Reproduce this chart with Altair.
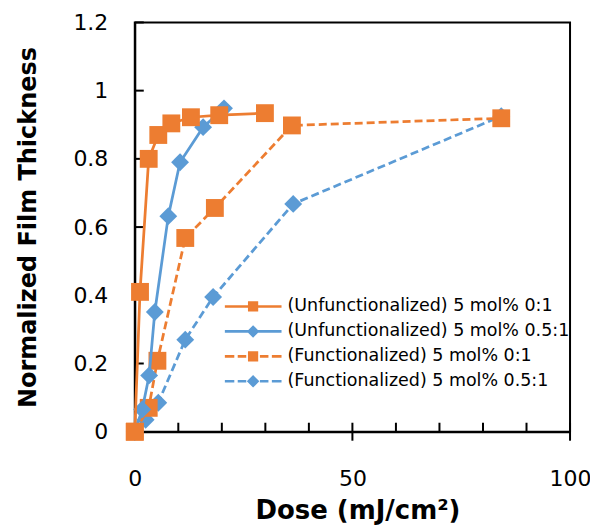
import altair as alt
import pandas as pd

series_names = [
    "(Unfunctionalized) 5 mol% 0:1",
    "(Unfunctionalized) 5 mol% 0.5:1",
    "(Functionalized) 5 mol% 0:1",
    "(Functionalized) 5 mol% 0.5:1",
]
series_colors = ["#ED7D31", "#5B9BD5", "#ED7D31", "#5B9BD5"]
series_dashed = [False, False, True, True]
series_shape = ["square", "diamond", "square", "diamond"]

unf01_dose = [0, 1.2, 3.2, 5.4, 8.4, 12.9, 19.4, 29.9]
unf01_thick = [0, 0.41, 0.80, 0.87, 0.904, 0.922, 0.928, 0.934]
unf05_dose = [0, 1.7, 3.3, 4.6, 7.7, 10.4, 15.7, 20.5]
unf05_thick = [0, 0.065, 0.165, 0.351, 0.632, 0.79, 0.893, 0.948]
fun01_dose = [0, 3.2, 5.2, 11.6, 18.4, 36.1, 84.2]
fun01_thick = [0, 0.07, 0.208, 0.568, 0.656, 0.898, 0.919]
fun05_dose = [0, 2.5, 5.4, 11.6, 18.0, 36.4, 84.2]
fun05_thick = [0, 0.035, 0.085, 0.27, 0.395, 0.668, 0.925]

x_labels = [0, 50, 100]
y_labels = [0, 0.2, 0.4, 0.6, 0.8, 1, 1.2]
x_minor = [10, 20, 30, 40, 60, 70, 80, 90]
x_major = [50, 100]

doses = [unf01_dose, unf05_dose, fun01_dose, fun05_dose]
thicks = [unf01_thick, unf05_thick, fun01_thick, fun05_thick]
rows = []
for name, d, t in zip(series_names, doses, thicks):
    for a, b in zip(d, t):
        rows.append({"series": name, "dose": a, "thick": b})
df = pd.DataFrame(rows)

W, H = 436, 410
FONT = "DejaVu Sans"

xs = alt.Scale(domain=[0, 100], nice=False, zero=False)
ys = alt.Scale(domain=[0, 1.2], nice=False, zero=False)

x_axis = alt.Axis(
    values=x_labels, format=".0f", grid=False, ticks=False, labelPadding=37,
    labelFlush=False, labelOverlap=False,
    labelFont=FONT, labelFontSize=22, labelColor="black",
    domainColor="black", domainWidth=2,
    title="Dose (mJ/cm²)", titleFont=FONT, titleFontSize=26, titleFontWeight="bold",
    titleColor="black", titleX=W / 2 + 5, titleY=87, titleBaseline="alphabetic",
    titleAlign="center",
)
y_axis = alt.Axis(
    values=y_labels, format=".1~f", grid=False, ticks=False, labelPadding=27,
    labelFlush=False, labelOverlap=False,
    labelFont=FONT, labelFontSize=22, labelColor="black",
    domainColor="black", domainWidth=2,
    title="Normalized Film Thickness", titleFont=FONT, titleFontSize=24,
    titleFontWeight="bold", titleColor="black", titleX=-106, titleY=H / 2,
    titleAngle=270, titleAlign="center", titleBaseline="middle",
)

layers = []
for i in [3, 2, 1, 0]:
    name = series_names[i]
    base = alt.Chart(df).transform_filter(alt.datum.series == name)
    line_kw = dict(color=series_colors[i], strokeWidth=2.75)
    if series_dashed[i]:
        line_kw["strokeDash"] = [8, 4]
    layers.append(
        base.mark_line(**line_kw).encode(
            x=alt.X("dose:Q", scale=xs, axis=x_axis),
            y=alt.Y("thick:Q", scale=ys, axis=y_axis),
        )
    )
    layers.append(
        base.mark_point(filled=True, opacity=1, shape=series_shape[i],
                        size=320, color=series_colors[i]).encode(
            x=alt.X("dose:Q", scale=xs, axis=x_axis),
            y=alt.Y("thick:Q", scale=ys, axis=y_axis),
        )
    )

# legend symbols: line + marker
def bar(a, b, h=0.045):
    return f"M{a},{-h}H{b}V{h}H{a}Z"

sq = "M-0.18,-0.18H0.18V0.18H-0.18Z"
dm = "M0,-0.22L0.22,0L0,0.22L-0.22,0Z"
solid = bar(-1, 1)
dashed = bar(-1, -0.66) + bar(-0.54, -0.24) + bar(0.24, 0.54) + bar(0.66, 1)
legend_paths = [solid + sq, solid + dm, dashed + sq, dashed + dm]

leg = alt.Legend(
    orient="none", legendX=90, legendY=276, title=None,
    symbolSize=3249, symbolStrokeWidth=0, symbolOpacity=1,
    labelFont=FONT, labelFontSize=17.5, labelColor="black", labelOffset=6,
    labelLimit=400, rowPadding=7, padding=0, clipHeight=17,
)
legend_layer = alt.Chart(df).transform_filter("datum.dose < 0").mark_point(
    filled=True, opacity=1
).encode(
    fill=alt.Fill("series:N", scale=alt.Scale(domain=series_names, range=series_colors), legend=leg),
    shape=alt.Shape("series:N", scale=alt.Scale(domain=series_names, range=legend_paths), legend=leg),
)
layers.append(legend_layer)

# inner tick marks
ytick = alt.Chart(pd.DataFrame({"v": y_labels[1:]})).mark_rule(color="black", strokeWidth=2).encode(
    y=alt.Y("v:Q", scale=ys, axis=y_axis), x=alt.value(0), x2=alt.value(9)
)
xminor = alt.Chart(pd.DataFrame({"v": x_minor})).mark_rule(color="black", strokeWidth=2).encode(
    x=alt.X("v:Q", scale=xs, axis=x_axis), y=alt.value(H - 9), y2=alt.value(H)
)
xmajor = alt.Chart(pd.DataFrame({"v": x_major})).mark_rule(color="black", strokeWidth=2).encode(
    x=alt.X("v:Q", scale=xs, axis=x_axis), y=alt.value(H - 9), y2=alt.value(H + 9)
)

chart = alt.layer(ytick, xminor, xmajor, *layers).properties(
    width=W, height=H,
    autosize=alt.AutoSizeParams(type="none"),
    padding={"left": 127, "top": 14, "right": 20, "bottom": 95},
).configure(font=FONT).configure_view(stroke="black", strokeWidth=2)

chart.save("out.html", embed_options={"renderer": "svg", "actions": False})
